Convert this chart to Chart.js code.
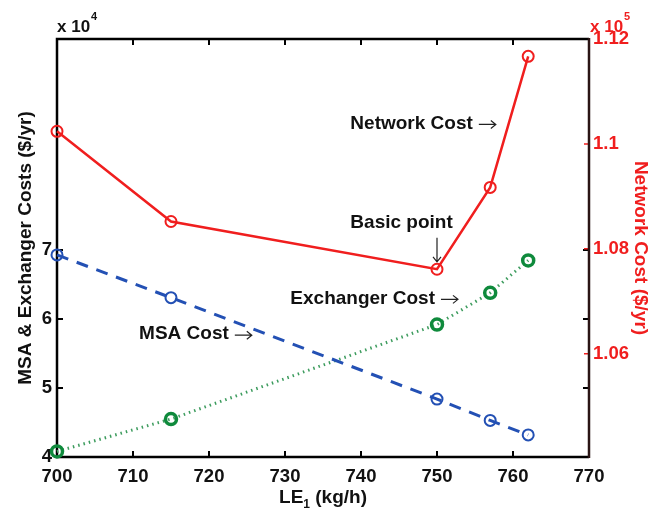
<!DOCTYPE html>
<html>
<head>
<meta charset="utf-8">
<script src="https://cdn.jsdelivr.net/npm/chart.js@4/dist/chart.umd.min.js"></script>
<style>
  html, body { margin: 0; padding: 0; background: #fff; }
  #wrap { width: 664px; height: 510px; }
</style>
</head>
<body>
<div id="wrap"><canvas id="chart" width="664" height="510"></canvas></div>
<script>
// LE1 flow rate (kg/h)
const flowRates = [700, 715, 750, 757, 762];
// costs
const networkCost = [1.1024, 1.0852, 1.0761, 1.0917, 1.1167];   // x 10^5 $/yr
const msaCost = [6.93, 6.31, 4.84, 4.53, 4.32];                  // x 10^4 $/yr
const exchangerCost = [4.08, 4.55, 5.92, 6.38, 6.85];            // x 10^4 $/yr

const xTicks = [700, 710, 720, 730, 740, 750, 760, 770];
const leftTicks = [4, 5, 6, 7];
const rightTicks = [1.06, 1.08, 1.1, 1.12];

const RED = '#f01e1e';
const BLUE = '#2350b4';
const GREEN = '#0f8a3c';
const FONT = "'Liberation Sans', Arial, Helvetica, sans-serif";

// text labels placed in data coordinates
const notes = [
    { text: 'Network Cost', x: 738.6, y: 1.1039, axis: 'y1', arrow: true },
    { text: 'Basic point', x: 738.6, y: 1.085, axis: 'y1', arrow: false },
    { text: 'Exchanger Cost', x: 730.7, y: 6.30, axis: 'y', arrow: true },
    { text: 'MSA Cost', x: 710.8, y: 5.78, axis: 'y', arrow: true }
];
const basicPoint = { x: 750, y: 1.0798 };

const toPoints = ys => flowRates.map((x, i) => ({ x: x, y: ys[i] }));

const frame = {
    id: 'frame',
    beforeDatasetsDraw(chart) {
        const { ctx, chartArea: a, scales } = chart;
        ctx.save();
        ctx.lineWidth = 2;
        ctx.strokeStyle = '#000';
        ctx.beginPath();
        xTicks.slice(1, -1).forEach(v => {
            const px = scales.x.getPixelForValue(v);
            ctx.moveTo(px, a.bottom); ctx.lineTo(px, a.bottom - 6);
            ctx.moveTo(px, a.top); ctx.lineTo(px, a.top + 6);
        });
        leftTicks.slice(1).forEach(v => {
            const py = scales.y.getPixelForValue(v);
            ctx.moveTo(a.left, py); ctx.lineTo(a.left + 6, py);
            ctx.moveTo(a.right, py); ctx.lineTo(a.right - 6, py);
        });
        ctx.stroke();

        ctx.strokeStyle = RED;
        ctx.lineWidth = 1.5;
        ctx.beginPath();
        rightTicks.slice(0, -1).forEach(v => {
            const py = scales.y1.getPixelForValue(v);
            ctx.moveTo(a.right, py); ctx.lineTo(a.right - 5, py);
        });
        ctx.stroke();

        ctx.lineWidth = 2.5;
        ctx.strokeStyle = '#000';
        ctx.beginPath();
        ctx.moveTo(a.right, a.top); ctx.lineTo(a.left, a.top);
        ctx.lineTo(a.left, a.bottom); ctx.lineTo(a.right, a.bottom);
        ctx.stroke();
        ctx.strokeStyle = '#2a1414';
        ctx.beginPath();
        ctx.moveTo(a.right, a.top - 1); ctx.lineTo(a.right, a.bottom + 1);
        ctx.stroke();
        ctx.restore();
    },
    afterDraw(chart) {
        const { ctx, chartArea: a, scales } = chart;
        ctx.save();
        ctx.textBaseline = 'middle';

        // annotations
        notes.forEach(n => {
            const px = scales.x.getPixelForValue(n.x);
            const py = scales[n.axis].getPixelForValue(n.y);
            ctx.font = 'bold 19px ' + FONT;
            ctx.fillStyle = '#111';
            ctx.textAlign = 'left';
            ctx.fillText(n.text, px, py);
            if (n.arrow) {
                const x0 = px + ctx.measureText(n.text).width + 6;
                const x1 = x0 + 17;
                const ay = py + 1;
                ctx.strokeStyle = '#222';
                ctx.lineWidth = 1.2;
                ctx.beginPath();
                ctx.moveTo(x0, ay); ctx.lineTo(x1, ay);
                ctx.moveTo(x1 - 5, ay - 4); ctx.lineTo(x1, ay); ctx.lineTo(x1 - 5, ay + 4);
                ctx.stroke();
            }
        });
        const bx = scales.x.getPixelForValue(basicPoint.x);
        const by = scales.y1.getPixelForValue(basicPoint.y);
        ctx.strokeStyle = '#222';
        ctx.lineWidth = 1.2;
        ctx.beginPath();
        ctx.moveTo(bx, by - 12); ctx.lineTo(bx, by + 12);
        ctx.moveTo(bx - 4, by + 7); ctx.lineTo(bx, by + 12); ctx.lineTo(bx + 4, by + 7);
        ctx.stroke();

        // exponent labels
        const expo = (x, base, sup, color) => {
            ctx.fillStyle = color;
            ctx.textAlign = 'left';
            ctx.textBaseline = 'alphabetic';
            ctx.font = 'bold 17px ' + FONT;
            ctx.fillText(base, x, 32);
            const w = ctx.measureText(base).width;
            ctx.font = 'bold 11px ' + FONT;
            ctx.fillText(sup, x + w + 1, 20);
        };
        expo(a.left, 'x 10', '4', '#111');
        expo(a.right + 1, 'x 10', '5', RED);

        // bottom axis title with subscript
        const cx = (a.left + a.right) / 2;
        const main = 'bold 19px ' + FONT;
        const sub = 'bold 12px ' + FONT;
        ctx.font = main;
        const w1 = ctx.measureText('LE').width;
        const w3 = ctx.measureText(' (kg/h)').width;
        ctx.font = sub;
        const w2 = ctx.measureText('1').width;
        let x = cx - (w1 + w2 + w3) / 2;
        ctx.fillStyle = '#111';
        ctx.textBaseline = 'alphabetic';
        ctx.font = main;
        ctx.fillText('LE', x, 503);
        ctx.font = sub;
        ctx.fillText('1', x + w1, 508);
        ctx.font = main;
        ctx.fillText(' (kg/h)', x + w1 + w2, 503);
        ctx.restore();
    }
};

new Chart(document.getElementById('chart'), {
    type: 'line',
    data: {
        datasets: [{
            label: 'MSA Cost',
            data: toPoints(msaCost),
            yAxisID: 'y',
            borderColor: BLUE,
            borderWidth: 3,
            borderDash: [12, 9],
            pointRadius: 5.5,
            pointBorderWidth: 2,
            pointBorderColor: BLUE,
            pointBackgroundColor: 'rgba(0,0,0,0)',
            clip: false
        }, {
            label: 'Exchanger Cost',
            data: toPoints(exchangerCost),
            yAxisID: 'y',
            borderColor: '#3d9c5e',
            borderWidth: 3,
            borderDash: [1.5, 4],
            pointRadius: 5.5,
            pointBorderWidth: 3.5,
            pointBorderColor: GREEN,
            pointBackgroundColor: 'rgba(0,0,0,0)',
            clip: false
        }, {
            label: 'Network Cost',
            data: toPoints(networkCost),
            yAxisID: 'y1',
            borderColor: RED,
            borderWidth: 2.5,
            pointRadius: 5.5,
            pointBorderWidth: 2,
            pointBorderColor: RED,
            pointBackgroundColor: 'rgba(0,0,0,0)',
            clip: false
        }]
    },
    options: {
        responsive: false,
        animation: false,
        layout: { padding: { top: 39, left: 0, right: 0, bottom: 0 } },
        plugins: {
            legend: { display: false },
            tooltip: { enabled: false }
        },
        scales: {
            x: {
                type: 'linear',
                min: 700,
                max: 770,
                afterBuildTicks: s => { s.ticks = xTicks.map(v => ({ value: v })); },
                afterFit: s => { s.height = 53; },
                grid: { display: false, drawTicks: false },
                border: { display: false },
                ticks: {
                    color: '#111',
                    padding: 9,
                    maxRotation: 0,
                    autoSkip: false,
                    font: { family: FONT, size: 18.5, weight: 'bold' }
                }
            },
            y: {
                position: 'left',
                min: 4,
                max: 10.06,
                afterBuildTicks: s => { s.ticks = leftTicks.map(v => ({ value: v })); },
                afterFit: s => { s.width = 57; },
                grid: { display: false, drawTicks: false },
                border: { display: false },
                ticks: {
                    color: '#111',
                    padding: 5,
                    font: { family: FONT, size: 18.5, weight: 'bold' }
                },
                title: {
                    display: true,
                    text: 'MSA & Exchanger Costs ($/yr)',
                    color: '#111',
                    padding: { top: 14 },
                    font: { family: FONT, size: 19, weight: 'bold' }
                }
            },
            y1: {
                position: 'right',
                min: 1.0403,
                max: 1.12,
                afterBuildTicks: s => { s.ticks = rightTicks.map(v => ({ value: v })); },
                afterFit: s => { s.width = 75; },
                grid: { display: false, drawTicks: false },
                border: { display: false },
                ticks: {
                    color: RED,
                    padding: 4,
                    callback: v => String(+v.toFixed(2)),
                    font: { family: FONT, size: 18.5, weight: 'bold' }
                },
                title: {
                    display: true,
                    text: 'Network Cost ($/yr)',
                    color: RED,
                    padding: { top: 12 },
                    font: { family: FONT, size: 19, weight: 'bold' }
                }
            }
        }
    },
    plugins: [frame]
});
</script>
</body>
</html>
